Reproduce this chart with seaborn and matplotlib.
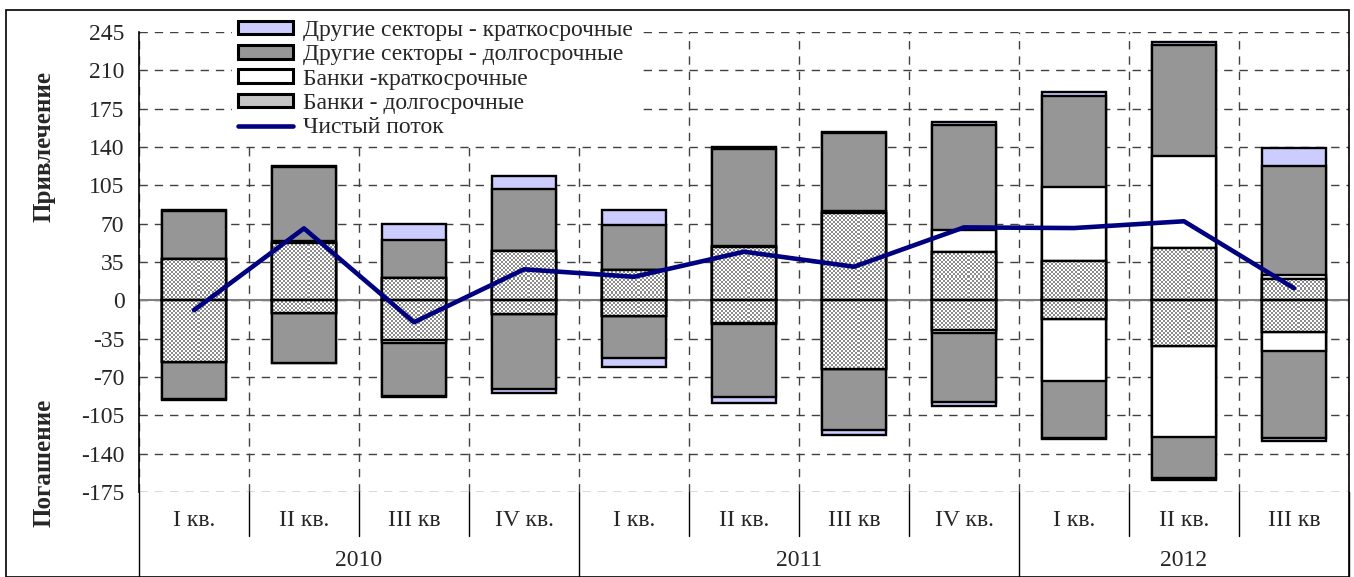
import numpy as np
import pandas as pd
import matplotlib
matplotlib.use("Agg")
import matplotlib.pyplot as plt
import matplotlib.transforms as mtransforms
from matplotlib.patches import Patch, Rectangle
from matplotlib.lines import Line2D
from matplotlib.colors import ListedColormap
import seaborn as sns

# ---------------- data ----------------
periods = ["2010 I", "2010 II", "2010 III", "2010 IV",
           "2011 I", "2011 II", "2011 III", "2011 IV",
           "2012 I", "2012 II", "2012 III"]
quarter_labels = ["I кв.", "II кв.", "III кв", "IV кв.",
                  "I кв.", "II кв.", "III кв", "IV кв.",
                  "I кв.", "II кв.", "III кв"]
years = ["2010", "2011", "2012"]
year_sizes = [4, 4, 3]

# attraction (positive)
banks_long_pos = [37.5, 52.0, 20.0, 45.3, 27.7, 48.5, 80.0, 44.4, 35.9, 47.6, 19.8]
banks_short_pos = [0.0, 2.5, 0.0, 0.0, 0.0, 1.5, 1.5, 19.8, 67.7, 83.8, 3.0]
others_long_pos = [44.5, 67.5, 35.0, 56.0, 41.0, 88.5, 71.0, 96.0, 83.4, 101.6, 99.4]
others_short_pos = [0.8, 0.8, 14.7, 12.5, 13.7, 1.5, 1.5, 2.5, 3.5, 3.0, 17.2]

# repayment (negative)
banks_long_neg = [-56.0, -12.0, -36.5, -12.5, -14.3, -20.5, -63.0, -27.1, -17.3, -41.9, -29.0]
banks_short_neg = [0.0, 0.0, -2.2, 0.0, 0.0, -1.5, 0.0, -2.9, -56.1, -82.7, -17.6]
others_long_neg = [-34.4, -45.0, -48.7, -68.8, -38.7, -66.0, -55.4, -62.6, -52.4, -37.4, -79.1]
others_short_neg = [-0.5, -0.5, -0.5, -3.7, -8.2, -6.0, -4.6, -3.9, -1.0, -2.0, -2.6]

net_flow = [-9.0, 65.7, -20.0, 28.3, 21.5, 44.4, 30.7, 66.6, 66.0, 72.2, 11.1]

yticks = list(range(-175, 246, 35))

names = ["Другие секторы - краткосрочные", "Другие секторы - долгосрочные",
         "Банки -краткосрочные", "Банки - долгосрочные", "Чистый поток"]
c_oshort = "#CCCCFF"
c_olong = "#969696"
c_bshort = "#FFFFFF"
c_check = "#8c8c8c"
c_line = "#000080"

# ---------------- style ----------------
sns.set_theme(style="white")
plt.rcParams["font.family"] = ["Liberation Serif", "DejaVu Serif"]

FS = 17
W, H = 1354, 577
fig = plt.figure(figsize=(W / 100, H / 100), dpi=100)
ax_l, ax_r, ax_t, ax_b = 139, 1349, 32, 492
ax = fig.add_axes([ax_l / W, 1 - ax_b / H, (ax_r - ax_l) / W, (ax_b - ax_t) / H])
YMIN, YMAX = -175, 245
XMIN, XMAX = -0.5, len(periods) - 0.5

df = pd.DataFrame({"period": periods})
bw = 0.59
edge_lw = 1.7

def cum(*arrs):
    return list(np.sum(np.array(arrs), axis=0))

layers_pos = [
    (cum(banks_long_pos, banks_short_pos, others_long_pos, others_short_pos), c_oshort, False),
    (cum(banks_long_pos, banks_short_pos, others_long_pos), c_olong, False),
    (cum(banks_long_pos, banks_short_pos), c_bshort, False),
    (list(banks_long_pos), "white", True),
]
layers_neg = [
    (cum(banks_long_neg, banks_short_neg, others_long_neg, others_short_neg), c_oshort, False),
    (cum(banks_long_neg, banks_short_neg, others_long_neg), c_olong, False),
    (cum(banks_long_neg, banks_short_neg), c_bshort, False),
    (list(banks_long_neg), "white", True),
]

# checker texture (2 px cells) covering the axes
ncols = (ax_r - ax_l) // 2
nrows = (ax_b - ax_t) // 2
checker = np.indices((nrows, ncols)).sum(axis=0) % 2
checker_cmap = ListedColormap(["white", c_check])

for layers in (layers_pos, layers_neg):
    for vals, col, textured in layers:
        d = df.assign(v=vals)
        sns.barplot(data=d, x="period", y="v", order=periods, color=col,
                    saturation=1, width=bw, errorbar=None, ax=ax,
                    edgecolor="black", linewidth=edge_lw, zorder=2)
        if textured:
            cont = ax.containers[-1]
            for p in cont.patches:
                im = ax.imshow(checker, extent=(XMIN, XMAX, YMIN, YMAX), origin="lower",
                               cmap=checker_cmap, interpolation="nearest", aspect="auto",
                               zorder=2.2)
                im.set_clip_path(p)
            # redraw edges on top of the texture
            sns.barplot(data=d, x="period", y="v", order=periods, fill=False,
                        width=bw, errorbar=None, ax=ax, color="black",
                        edgecolor="black", linewidth=edge_lw, zorder=2.4)

sns.pointplot(x=periods, y=net_flow, order=periods, color=c_line, markers="",
              linestyles="-", linewidth=3.3, errorbar=None, ax=ax, zorder=5)

# axes styling
ax.set_ylim(YMIN, YMAX)
ax.set_xlim(XMIN, XMAX)
ax.set_yticks(yticks)
ax.set_yticklabels([str(t) for t in yticks], fontsize=FS)
ax.tick_params(axis="y", direction="inout", length=15, width=1, color="black", pad=3)
ax.set_xticks(np.arange(-0.5, len(periods), 1.0), minor=True)
ax.set_xticks([])
ax.tick_params(axis="x", which="both", length=0)
ax.set_xlabel("")
ax.set_ylabel("")
for s in ["top", "right", "bottom"]:
    ax.spines[s].set_visible(False)
ax.spines["left"].set_color("black")
ax.spines["left"].set_linewidth(1.2)
ax.set_axisbelow(True)
ax.grid(axis="y", which="major", color="#404040", linestyle=(0, (6, 5)), linewidth=1.0)
ax.grid(axis="x", which="minor", color="#404040", linestyle=(0, (6, 5)), linewidth=1.0)
ax.axhline(0, color="#808080", linewidth=1.5, zorder=1.5)

# category table below the plot
trans = mtransforms.blended_transform_factory(ax.transData, ax.transAxes)
q_sep_bottom = (ax_b - 536) / (ax_b - ax_t)
y_bottom = (ax_b - H) / (ax_b - ax_t)
q_text_y = (ax_b - 521) / (ax_b - ax_t)
y_text_y = (ax_b - 561) / (ax_b - ax_t)
for i, lab in enumerate(quarter_labels):
    ax.text(i, q_text_y, lab, transform=trans, ha="center", va="center", fontsize=FS)
year_edges = np.cumsum([0] + year_sizes) - 0.5
for k, yr in enumerate(years):
    ax.text((year_edges[k] + year_edges[k + 1]) / 2, y_text_y, yr, transform=trans,
            ha="center", va="center", fontsize=FS)
for i in range(len(periods) + 1):
    xb = i - 0.5
    full = xb in list(year_edges)
    ax.add_line(Line2D([xb, xb], [0, y_bottom if full else q_sep_bottom], transform=trans,
                       color="black", linewidth=1.0, clip_on=False))

# side labels
fig.text(44 / W, 1 - 146 / H, "Привлечение", rotation=90, ha="center", va="center",
         fontsize=18, fontweight="bold")
fig.text(44 / W, 1 - 463 / H, "Погашение", rotation=90, ha="center", va="center",
         fontsize=18, fontweight="bold")

# outer frame
fig.add_artist(Rectangle((6 / W, 0), (ax_r - 6) / W, 1 - 10 / H, transform=fig.transFigure,
                         fill=False, edgecolor="black", linewidth=1.2))

# legend
handles = [
    Patch(facecolor=c_oshort, edgecolor="black", linewidth=2.2),
    Patch(facecolor=c_olong, edgecolor="black", linewidth=2.2),
    Patch(facecolor=c_bshort, edgecolor="black", linewidth=2.2),
    Patch(facecolor="#c6c6c6", edgecolor="black", linewidth=2.2),
    Line2D([0], [0], color=c_line, linewidth=3.3),
]
leg = ax.legend(handles, names, loc="upper left", bbox_to_anchor=(232 / W, 1 - 14 / H),
                bbox_transform=fig.transFigure, fontsize=FS, frameon=True,
                facecolor="white", edgecolor="none", framealpha=1, fancybox=False,
                handlelength=2.35, handleheight=0.5, handletextpad=0.4,
                labelspacing=0.14, borderpad=0.25, borderaxespad=0)
leg.set_zorder(10)

ax.set_ylim(YMIN, YMAX)
ax.set_xlim(XMIN, XMAX)

fig.savefig("out.png", dpi=100, facecolor="white")
